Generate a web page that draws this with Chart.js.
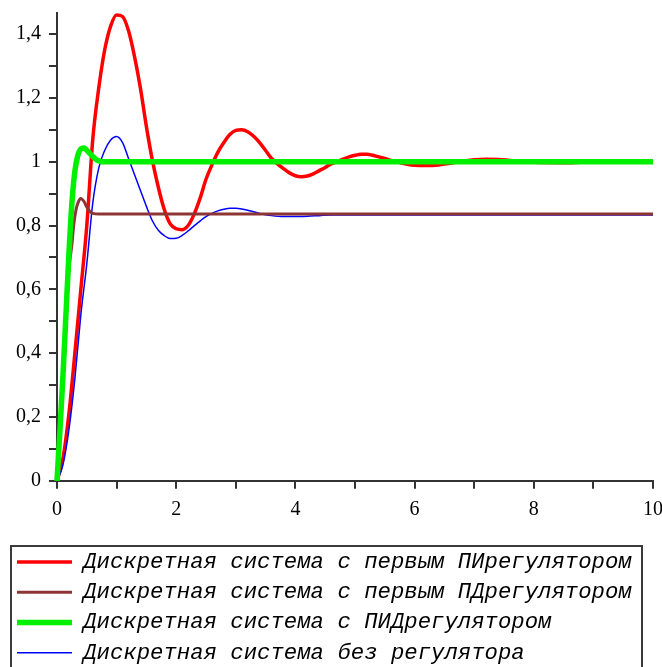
<!DOCTYPE html>
<html>
<head>
<meta charset="utf-8">
<script src="https://cdn.jsdelivr.net/npm/chart.js@4.4.1/dist/chart.umd.min.js"></script>
<style>
  html, body { margin: 0; padding: 0; background: #fff; overflow: hidden; }
  #wrap { width: 662px; height: 683px; }
</style>
</head>
<body>
<div id="wrap"><canvas id="stepChart"></canvas></div>
<script>
// legend labels
const seriesNames = [
  'Дискретная система с первым ПИрегулятором',
  'Дискретная система с первым ПДрегулятором',
  'Дискретная система с ПИДрегулятором',
  'Дискретная система без регулятора'
];

// red: first PI controller
const redT = [0, 0.1, 0.2, 0.3, 0.4, 0.5, 0.6, 0.7, 0.8, 0.9, 1.0, 1.1, 1.2, 1.3, 1.4, 1.5, 1.6, 1.7, 1.8, 1.9,
  2.0, 2.1, 2.2, 2.3, 2.4, 2.5, 2.6, 2.7, 2.8, 2.9, 3.0, 3.1, 3.2, 3.3, 3.4, 3.5, 3.6, 3.7, 3.8, 3.9,
  4.0, 4.1, 4.2, 4.3, 4.4, 4.5, 4.6, 4.7, 4.8, 4.9, 5.0, 5.1, 5.2, 5.3, 5.4, 5.5, 5.6, 5.7, 5.8, 5.9,
  6.0, 6.2, 6.4, 6.6, 6.8, 7.0, 7.2, 7.4, 7.6, 7.8, 8.0, 8.5, 9.0, 9.5, 10];
const redY = [0, 0.07, 0.21, 0.40, 0.60, 0.80, 1.07, 1.23, 1.35, 1.425, 1.46, 1.455, 1.41, 1.33, 1.23, 1.11, 1.005, 0.92, 0.85, 0.805,
  0.79, 0.787, 0.80, 0.835, 0.885, 0.945, 0.99, 1.03, 1.06, 1.085, 1.098, 1.100, 1.094, 1.08, 1.06, 1.035, 1.01, 0.993, 0.978, 0.965,
  0.956, 0.953, 0.955, 0.962, 0.972, 0.982, 0.993, 1.0, 1.008, 1.015, 1.02, 1.023, 1.023, 1.02, 1.015, 1.01, 1.004, 1.0, 0.995, 0.991,
  0.989, 0.988, 0.99, 0.995, 1.001, 1.006, 1.008, 1.007, 1.004, 1.0, 0.998, 0.997, 1.0, 1.001, 1.0];

// brown: first PD controller
const brownT = [0, 0.1, 0.2, 0.25, 0.28, 0.32, 0.36, 0.4, 0.45, 0.5, 0.55, 0.6, 0.7, 10];
const brownY = [0, 0.3, 0.66, 0.74, 0.80, 0.85, 0.875, 0.885, 0.876, 0.858, 0.845, 0.838, 0.836, 0.836];

// green: PID controller
const greenT = [0, 0.05, 0.1, 0.15, 0.2, 0.25, 0.3, 0.35, 0.4, 0.45, 0.5, 0.55, 0.6, 0.65, 0.7, 0.75, 10];
const greenY = [0, 0.16, 0.33, 0.52, 0.71, 0.87, 0.97, 1.02, 1.04, 1.043, 1.036, 1.026, 1.016, 1.008, 1.003, 1.0, 1.0];

// blue: no controller
const blueT = [0, 0.1, 0.2, 0.3, 0.4, 0.5, 0.6, 0.7, 0.8, 0.9, 1.0, 1.1, 1.2, 1.3, 1.4, 1.5, 1.6, 1.7, 1.8, 1.9,
  2.0, 2.1, 2.2, 2.3, 2.4, 2.5, 2.6, 2.7, 2.8, 2.9, 3.0, 3.1, 3.2, 3.3, 3.4, 3.5, 3.6, 3.8, 4.0, 4.2, 4.4, 4.6,
  5, 6, 7, 8, 9, 10];
const blueY = [0, 0.05, 0.16, 0.32, 0.52, 0.68, 0.87, 0.98, 1.035, 1.068, 1.079, 1.06, 1.01, 0.96, 0.91, 0.86, 0.815, 0.785, 0.768, 0.759,
  0.76, 0.769, 0.783, 0.799, 0.814, 0.828, 0.838, 0.846, 0.851, 0.854, 0.854, 0.852, 0.848, 0.843, 0.838, 0.834, 0.831, 0.828, 0.828, 0.829, 0.831, 0.833,
  0.833, 0.833, 0.833, 0.833, 0.833, 0.833];

const toPoints = (xs, ys) => xs.map((x, i) => ({ x: x, y: ys[i] }));

// legend box like the Maple one
const legendFrame = {
  id: 'legendFrame',
  afterDraw(chart) {
    const ctx = chart.ctx;
    ctx.save();
    ctx.strokeStyle = '#3a3a3a';
    ctx.lineWidth = 2;
    ctx.strokeRect(11, 546, 631, 200);
    ctx.restore();
  }
};

const axisColor = '#333';

const makeLine = (name, xs, ys, color, width, order) => ({
  label: name,
  data: toPoints(xs, ys),
  borderColor: color,
  backgroundColor: color,
  borderWidth: width,
  pointRadius: 0,
  cubicInterpolationMode: 'monotone',
  fill: false,
  clip: false,
  order: order
});

new Chart(document.getElementById('stepChart').getContext('2d'), {
  type: 'line',
  data: {
    datasets: [
      makeLine(seriesNames[0], redT, redY, '#ff0000', 3.5, 3),
      makeLine(seriesNames[1], brownT, brownY, '#8e3434', 3, 1),
      makeLine(seriesNames[2], greenT, greenY, '#00f000', 5.5, 0),
      makeLine(seriesNames[3], blueT, blueY, '#0000ff', 1.5, 2)
    ]
  },
  options: {
    responsive: true,
    maintainAspectRatio: false,
    animation: false,
    layout: { padding: { left: 9, right: 9, top: 13, bottom: 9 } },
    plugins: {
      tooltip: { enabled: false },
      legend: {
        position: 'bottom',
        align: 'start',
        labels: {
          usePointStyle: true,
          pointStyle: 'line',
          pointStyleWidth: 55,
          boxWidth: 55,
          padding: 8,
          color: '#000',
          font: { family: 'Liberation Mono', style: 'italic', size: 22.3 },
          sort: (a, b) => a.datasetIndex - b.datasetIndex
        }
      }
    },
    scales: {
      x: {
        type: 'linear',
        min: 0,
        max: 10,
        border: { display: true, color: axisColor, width: 2 },
        grid: { drawOnChartArea: false, drawTicks: true, tickLength: 8, color: axisColor, lineWidth: 2 },
        ticks: {
          stepSize: 1,
          autoSkip: false,
          maxRotation: 0,
          padding: 9,
          color: '#000',
          font: { family: 'Liberation Serif', size: 20 },
          callback: (v) => (v % 2 === 0 ? String(v) : '')
        },
        afterFit: (scale) => {
          scale.height = 62;
          scale.paddingLeft = 0;
          scale.paddingRight = 0;
        }
      },
      y: {
        type: 'linear',
        min: 0,
        max: 1.466,
        border: { display: true, color: axisColor, width: 2 },
        grid: { drawOnChartArea: false, drawTicks: true, tickLength: 8, color: axisColor, lineWidth: 2 },
        ticks: {
          stepSize: 0.1,
          includeBounds: false,
          autoSkip: false,
          padding: 8,
          color: '#000',
          font: { family: 'Liberation Serif', size: 20 },
          callback: (v) => {
            const k = Math.round(v * 10);
            if (k % 2 !== 0) return '';
            return Number.isInteger(v) ? String(v) : (k / 10).toFixed(1).replace('.', ',');
          }
        },
        afterFit: (scale) => {
          scale.width = 48;
          scale.paddingTop = 0;
          scale.paddingBottom = 0;
        }
      }
    }
  },
  plugins: [legendFrame]
});
</script>
</body>
</html>
